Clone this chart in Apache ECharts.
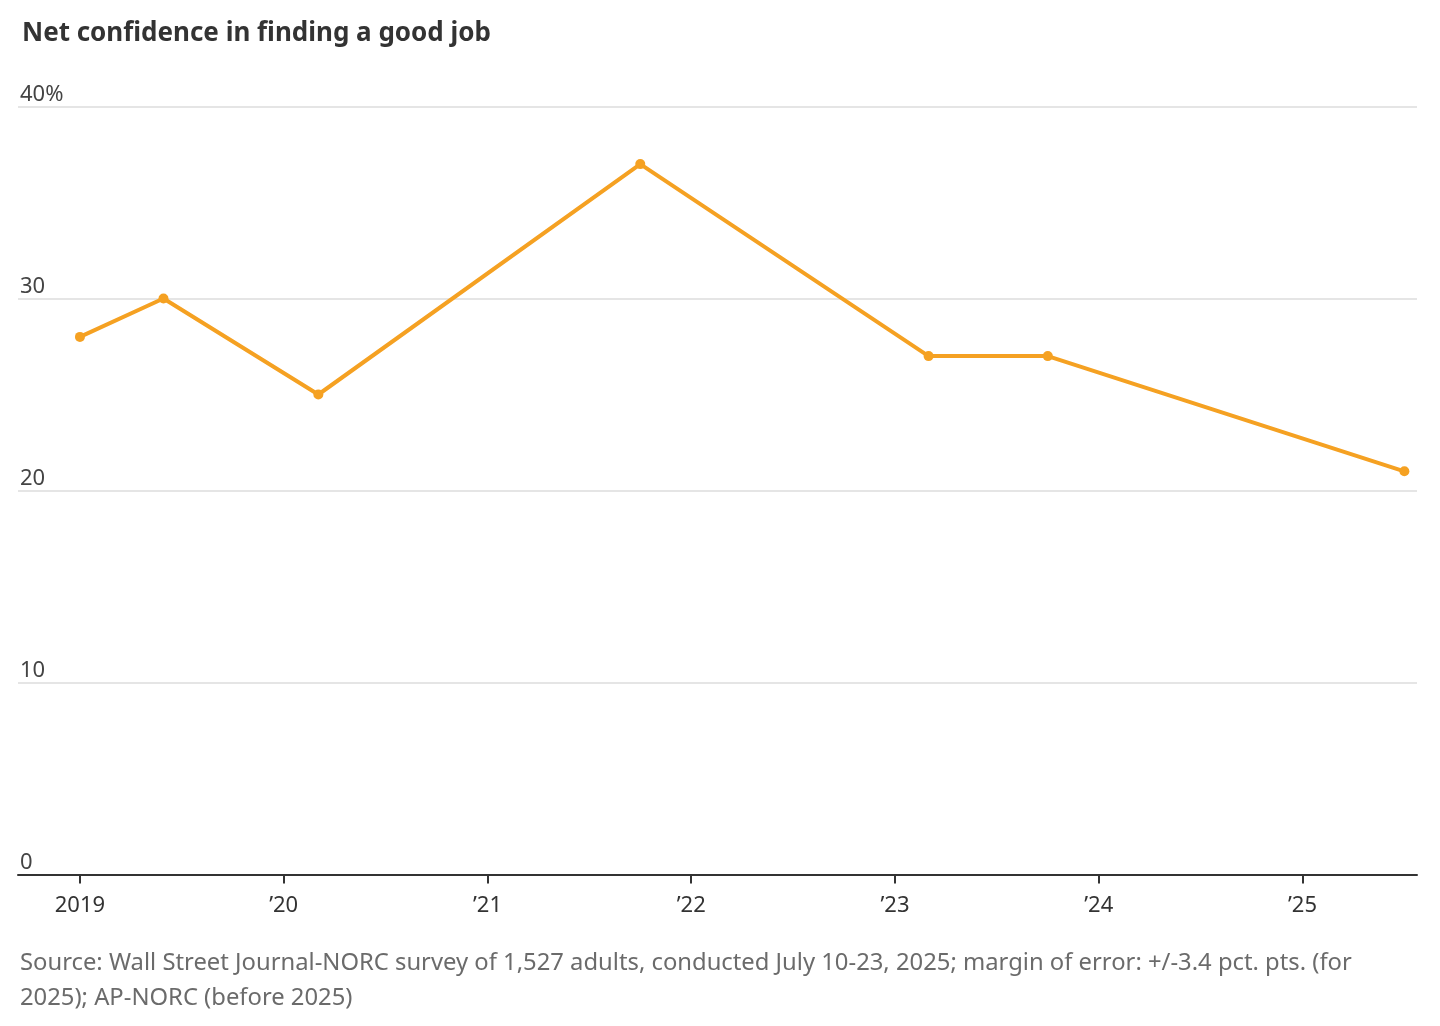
<!DOCTYPE html>
<html>
<head>
<meta charset="utf-8">
<script src="https://cdn.jsdelivr.net/npm/echarts@6/dist/echarts.min.js"></script>
<style>
html,body{margin:0;padding:0;background:#fff;}
#chart{width:1440px;height:1026px;}
</style>
</head>
<body>
<div id="chart"></div>
<script>
// Survey dates as decimal years, and net confidence (%)
const surveyDates = [2019.0, 2019.41, 2020.17, 2021.75, 2023.165, 2023.75, 2025.5];
const netConfidence = [28, 30, 25, 37, 27, 27, 21];
const yearTicks = [2019, 2020, 2021, 2022, 2023, 2024, 2025];
const yTicks = [0, 10, 20, 30, 40];
const titleText = 'Net confidence in finding a good job';
const sourceLines = [
  'Source: Wall Street Journal-NORC survey of 1,527 adults, conducted July 10-23, 2025; margin of error: +/-3.4 pct. pts. (for',
  '2025); AP-NORC (before 2025)'
];

const chart = echarts.init(document.getElementById('chart'), null, {renderer: 'canvas'});
const FONT = '"Noto Sans", "Open Sans", sans-serif';

chart.setOption({
  animation: false,
  backgroundColor: '#ffffff',
  title: [{
    text: titleText,
    left: 17,
    top: 16,
    textStyle: {fontFamily: FONT, fontSize: 26, fontWeight: 'bold', color: '#333333'}
  }, {
    text: sourceLines.join('\n'),
    left: 15,
    top: 941,
    textStyle: {fontFamily: FONT, fontSize: 23.8, fontWeight: 'normal', color: '#6b6b6b', lineHeight: 35}
  }],
  grid: {left: 18, right: 23, top: 106.5, bottom: 151.5, containLabel: false},
  xAxis: {
    type: 'value',
    min: 2018.696,
    max: 2025.562,
    splitLine: {show: false},
    axisLine: {show: true, lineStyle: {color: '#333333', width: 2}},
    axisTick: {show: true, customValues: yearTicks, length: 9, lineStyle: {color: '#333333', width: 2}},
    axisLabel: {
      customValues: yearTicks,
      margin: 20,
      fontFamily: FONT,
      fontSize: 22,
      color: '#333333',
      formatter: v => v === 2019 ? '2019' : '\u2019' + String(v).slice(2)
    }
  },
  yAxis: {
    type: 'value',
    min: 0,
    max: 40,
    interval: 10,
    axisLine: {show: false},
    axisTick: {show: false},
    splitLine: {show: true, lineStyle: {color: '#dddddd', width: 1.5}},
    axisLabel: {
      inside: true,
      margin: 2,
      verticalAlign: 'bottom',
      padding: [0, 0, 1, 0],
      fontFamily: FONT,
      fontSize: 22,
      color: '#444444',
      formatter: v => v === 40 ? '40%' : String(v)
    }
  },
  series: [{
    type: 'line',
    data: surveyDates.map((d, i) => [d, netConfidence[i]]),
    symbol: 'circle',
    symbolSize: 10,
    showSymbol: true,
    lineStyle: {color: '#F5A122', width: 4},
    itemStyle: {color: '#F5A122'},
    z: 5
  }]
});
</script>
</body>
</html>
